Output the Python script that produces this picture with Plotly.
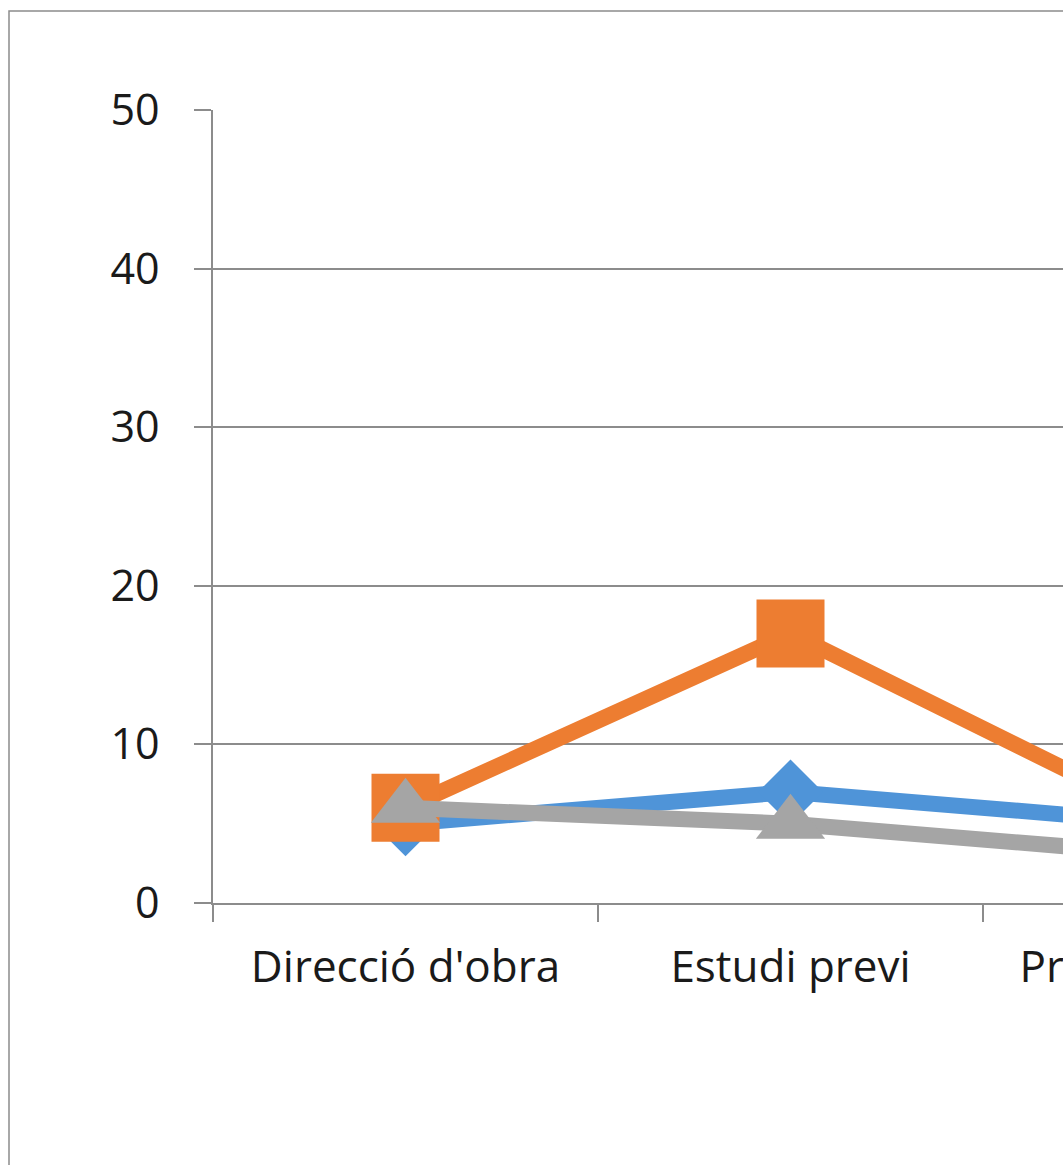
import plotly.graph_objects as go

categories = ["Direcció d'obra", "Estudi previ", "Projecte d'obra"]
serie_1 = [5, 7, 5]
serie_2 = [6, 17, 5]
serie_3 = [6, 5, 3]
y_tickvals = [0, 10, 20, 30, 40, 50]

# layout geometry (pixels)
W, H = 1420, 1200
L, T = 213, 110
PLOT_W, PLOT_H = 1155, 793
R = W - L - PLOT_W
B = H - T - PLOT_H

FONT = "Open Sans"

fig = go.Figure()
series = [
    ("Sèrie 1", serie_1, "#4F94D8", "diamond", 50),
    ("Sèrie 2", serie_2, "#ED7D31", "square", 68),
    ("Sèrie 3", serie_3, "#A5A5A5", "triangle-up", 60),
]
for name, vals, col, sym, sz in series:
    fig.add_trace(go.Scatter(
        x=categories, y=vals, name=name, mode="lines+markers",
        line=dict(color=col, width=16),
        marker=dict(symbol=sym, size=sz, color=col, line=dict(width=0)),
        cliponaxis=False,
    ))

def px_x(p):
    return (p - L) / PLOT_W

def px_y(p):
    return (T + PLOT_H - p) / PLOT_H

fig.add_shape(type="rect", xref="paper", yref="paper",
              x0=px_x(9), x1=px_x(1400), y0=px_y(1190), y1=px_y(11),
              line=dict(color="#8c8c8c", width=1.5), fillcolor="rgba(0,0,0,0)",
              layer="below")

fig.update_layout(
    width=W, height=H,
    margin=dict(l=L, r=R, t=T, b=B),
    paper_bgcolor="white", plot_bgcolor="white",
    showlegend=False,
    font=dict(family=FONT, size=43, color="#1a1a1a"),
    xaxis=dict(
        type="category", range=[-0.5, 2.5],
        showgrid=False, showline=True, linecolor="#8c8c8c", linewidth=1.5,
        ticks="outside", ticklen=17, tickcolor="#8c8c8c", tickwidth=1.5,
        tickson="boundaries", ticklabelstandoff=24,
        tickfont=dict(family=FONT, size=44, color="#1a1a1a"),
    ),
    yaxis=dict(
        range=[0, 50], tickvals=y_tickvals,
        showgrid=True, gridcolor="#8c8c8c", gridwidth=1.5,
        showline=True, linecolor="#8c8c8c", linewidth=1.5,
        ticks="outside", ticklen=17, tickcolor="#8c8c8c", tickwidth=1.5,
        ticklabelstandoff=26, zeroline=False,
        tickfont=dict(family=FONT, size=43, color="#1a1a1a"),
    ),
)

fig.write_html(
    "out.html",
    post_script="document.body.style.margin='0';document.body.style.overflow='hidden';document.documentElement.style.overflow='hidden';",
)
